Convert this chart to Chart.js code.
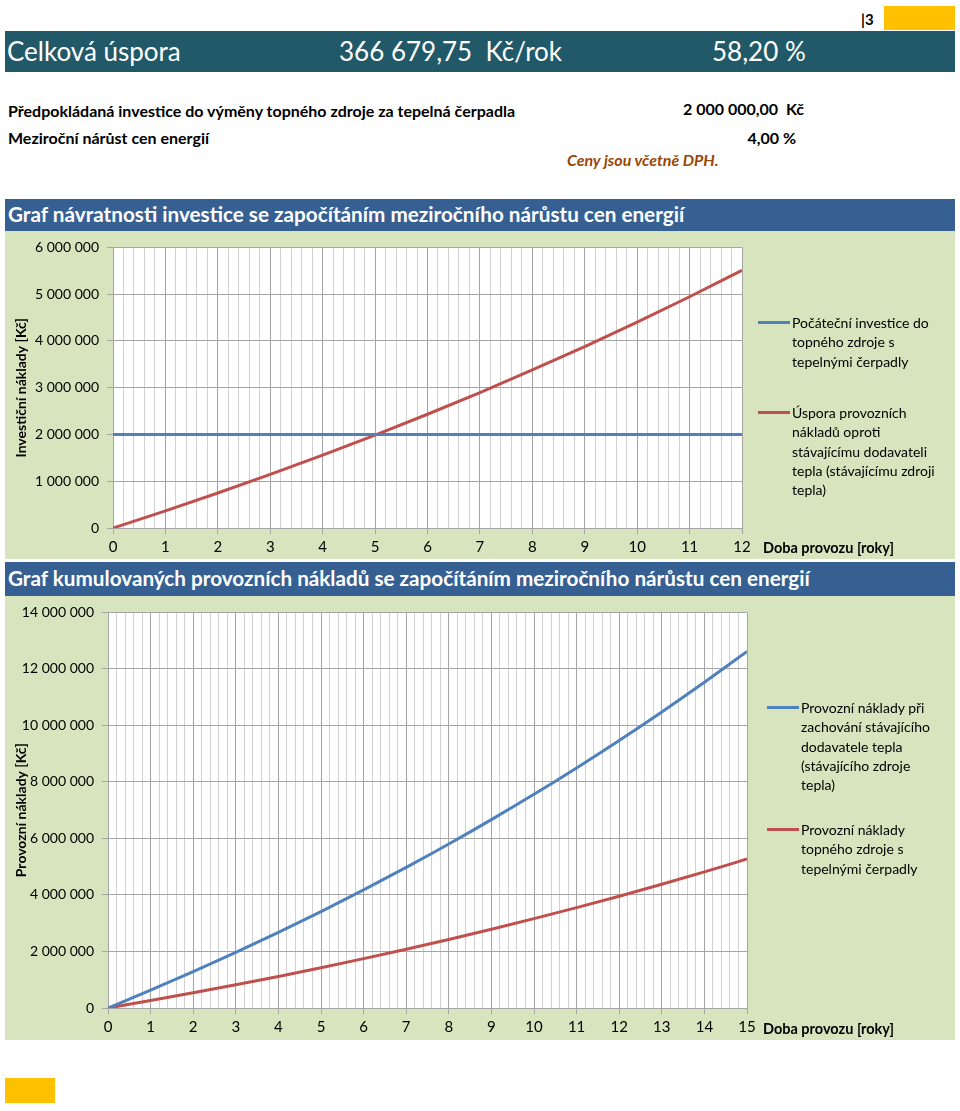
<!DOCTYPE html>
<html lang="cs">
<head>
<meta charset="utf-8">
<title>Graf návratnosti investice</title>
<script src="https://cdn.jsdelivr.net/npm/chart.js@4/dist/chart.umd.min.js"></script>
<style>
  body { margin: 0; width: 960px; height: 1111px; background: #fff; overflow: hidden; font-family: Lato, "Open Sans", sans-serif; position: relative; }
  .abs { position: absolute; white-space: nowrap; }
  .yellow { background: #ffc000; }
  .head { left: 5px; top: 31px; width: 950px; height: 41px; background: #215968; color: #fff; }
  .head span { position: absolute; top: 0; line-height: 41px; font-size: 26px; }
  .row { font-size: 16px; font-weight: bold; line-height: 20px; color: #000; }
  .bar { left: 5px; width: 950px; color: #fff; font-size: 20.7px; font-weight: bold; }
  .bar span { position: absolute; left: 3px; }
  .green { left: 5px; width: 950px; background: #d7e4bd; }
  .green canvas { position: absolute; left: 0; top: 0; }
  .leg { position: absolute; font-size: 14px; line-height: 19.3px; color: #000; }
  .leg i { position: absolute; left: -34px; top: 8px; width: 32px; height: 3px; }
  .xt { position: absolute; font-size: 14.5px; font-weight: bold; color: #000; }
</style>
</head>
<body>
<div class="abs" style="left:861px;top:10px;font-size:15px;font-weight:bold;">|3</div>
<div class="abs yellow" style="left:884px;top:6px;width:71px;height:24px;"></div>

<div class="abs head">
  <span style="left:2px;">Celková úspora</span>
  <span style="left:334px;">366 679,75&nbsp; Kč/rok</span>
  <span style="left:707px;">58,20 %</span>
</div>

<div class="abs row" style="left:8px;top:101px;">Předpokládaná investice do výměny topného zdroje za tepelná čerpadla</div>
<div class="abs row" style="right:156px;top:99px;">2 000 000,00&nbsp; Kč</div>
<div class="abs row" style="left:8px;top:128px;">Meziroční nárůst cen energií</div>
<div class="abs row" style="right:164px;top:128px;">4,00 %</div>
<div class="abs row" style="left:567px;top:150px;font-style:italic;color:#974706;">Ceny jsou včetně DPH.</div>

<!-- graf 1 -->
<div class="abs bar" style="top:199px;height:32px;background:#376092;"><span style="top:3px;">Graf návratnosti investice se započítáním meziročního nárůstu cen energií</span></div>
<div class="abs green" style="top:231px;height:328px;">
  <canvas id="chart1" width="950" height="328"></canvas>
  <div class="leg" style="left:787px;top:82px;"><i style="background:#4f81bd"></i>Počáteční investice do<br>topného zdroje s<br>tepelnými čerpadly</div>
  <div class="leg" style="left:787px;top:172px;"><i style="background:#c0504d"></i>Úspora provozních<br>nákladů oproti<br>stávajícímu dodavateli<br>tepla (stávajícímu zdroji<br>tepla)</div>
  <div class="xt" style="left:758px;top:308px;">Doba provozu [roky]</div>
</div>

<!-- graf 2 -->
<div class="abs bar" style="top:562px;height:34px;background:#376092;"><span style="top:4px;">Graf kumulovaných provozních nákladů se započítáním meziročního nárůstu cen energií</span></div>
<div class="abs green" style="top:596px;height:444px;">
  <canvas id="chart2" width="950" height="444"></canvas>
  <div class="leg" style="left:796px;top:102px;"><i style="background:#4f81bd"></i>Provozní náklady při<br>zachování stávajícího<br>dodavatele tepla<br>(stávajícího zdroje<br>tepla)</div>
  <div class="leg" style="left:796px;top:224px;"><i style="background:#c0504d"></i>Provozní náklady<br>topného zdroje s<br>tepelnými čerpadly</div>
  <div class="xt" style="left:758px;top:424px;">Doba provozu [roky]</div>
</div>

<div class="abs yellow" style="left:5px;top:1078px;width:50px;height:25px;"></div>

<script>
// graf 1 - navratnost investice
const roky1 = [0, 1, 2, 3, 4, 5, 6, 7, 8, 9, 10, 11, 12];
const investice = [2000000, 2000000, 2000000, 2000000, 2000000, 2000000, 2000000, 2000000, 2000000, 2000000, 2000000, 2000000, 2000000];
const uspora = [0, 367000, 748000, 1145000, 1557000, 1986000, 2432000, 2896000, 3379000, 3880000, 4402000, 4945000, 5510000];

// graf 2 - kumulovane provozni naklady
const roky2 = [0, 1, 2, 3, 4, 5, 6, 7, 8, 9, 10, 11, 12, 13, 14, 15];
const nakladyStavajici = [0, 630000, 1285000, 1967000, 2675000, 3412000, 4179000, 4976000, 5805000, 6668000, 7564000, 8497000, 9467000, 10475000, 11525000, 12616000];
const nakladyTC = [0, 263000, 537000, 822000, 1118000, 1426000, 1747000, 2080000, 2427000, 2787000, 3162000, 3552000, 3957000, 4379000, 4817000, 5273000];

Chart.defaults.font.family = 'Lato, "Open Sans", sans-serif';
Chart.defaults.color = '#000';

const plotBg = {
  id: 'plotBg',
  beforeDraw(chart) {
    const { ctx, chartArea: a } = chart;
    ctx.save();
    ctx.fillStyle = '#fff';
    ctx.fillRect(a.left, a.top, a.width, a.height);
    ctx.restore();
  }
};

const isWhole = v => Math.abs(v - Math.round(v)) < 1e-6;
const formatKc = v => String(v).replace(/\B(?=(\d{3})+(?!\d))/g, ' ');
const toXY = (xs, ys) => xs.map((x, i) => ({ x: x, y: ys[i] }));

function makeChart(id, cfg) {
  return new Chart(document.getElementById(id), {
    type: 'line',
    data: {
      datasets: cfg.series.map(s => ({
        data: toXY(cfg.years, s.values),
        borderColor: s.color,
        borderWidth: 3,
        pointRadius: 0,
        cubicInterpolationMode: 'monotone',
        fill: false
      }))
    },
    plugins: [plotBg],
    options: {
      responsive: false,
      animation: false,
      layout: { padding: { top: cfg.top, right: cfg.right, left: 0, bottom: 0 } },
      plugins: { legend: { display: false }, tooltip: { enabled: false } },
      scales: {
        x: {
          type: 'linear',
          min: 0,
          max: cfg.years[cfg.years.length - 1],
          afterFit: s => { s.height = cfg.xHeight; },
          ticks: {
            stepSize: 0.2,
            autoSkip: false,
            maxRotation: 0,
            padding: 4,
            font: { size: 15 },
            callback: v => isWhole(v) ? String(Math.round(v)) : ''
          },
          grid: {
            color: c => isWhole(c.tick.value) ? '#a5a5a5' : '#d0d0d0',
            tickColor: c => isWhole(c.tick.value) ? '#a5a5a5' : 'rgba(0,0,0,0)',
            tickLength: 6
          },
          border: { color: '#a5a5a5' }
        },
        y: {
          min: 0,
          max: cfg.yMax,
          afterFit: s => { s.width = cfg.yWidth; },
          ticks: { stepSize: cfg.yStep, padding: 8, font: { size: 14 }, callback: v => formatKc(v) },
          grid: { color: '#a5a5a5', tickLength: 6 },
          border: { color: '#a5a5a5' },
          title: { display: true, text: cfg.yTitle, font: { size: 14, weight: 'bold' }, padding: { top: 8, bottom: 0 } }
        }
      }
    }
  });
}

makeChart('chart1', {
  years: roky1,
  series: [
    { values: investice, color: '#4f81bd' },
    { values: uspora, color: '#c0504d' }
  ],
  yMax: 6000000, yStep: 1000000,
  yTitle: 'Investiční náklady [Kč]',
  top: 11, right: 213, yWidth: 108, xHeight: 31
});

makeChart('chart2', {
  years: roky2,
  series: [
    { values: nakladyStavajici, color: '#4f81bd' },
    { values: nakladyTC, color: '#c0504d' }
  ],
  yMax: 14000000, yStep: 2000000,
  yTitle: 'Provozní náklady [Kč]',
  top: 7, right: 208, yWidth: 103, xHeight: 32
});
</script>
</body>
</html>
